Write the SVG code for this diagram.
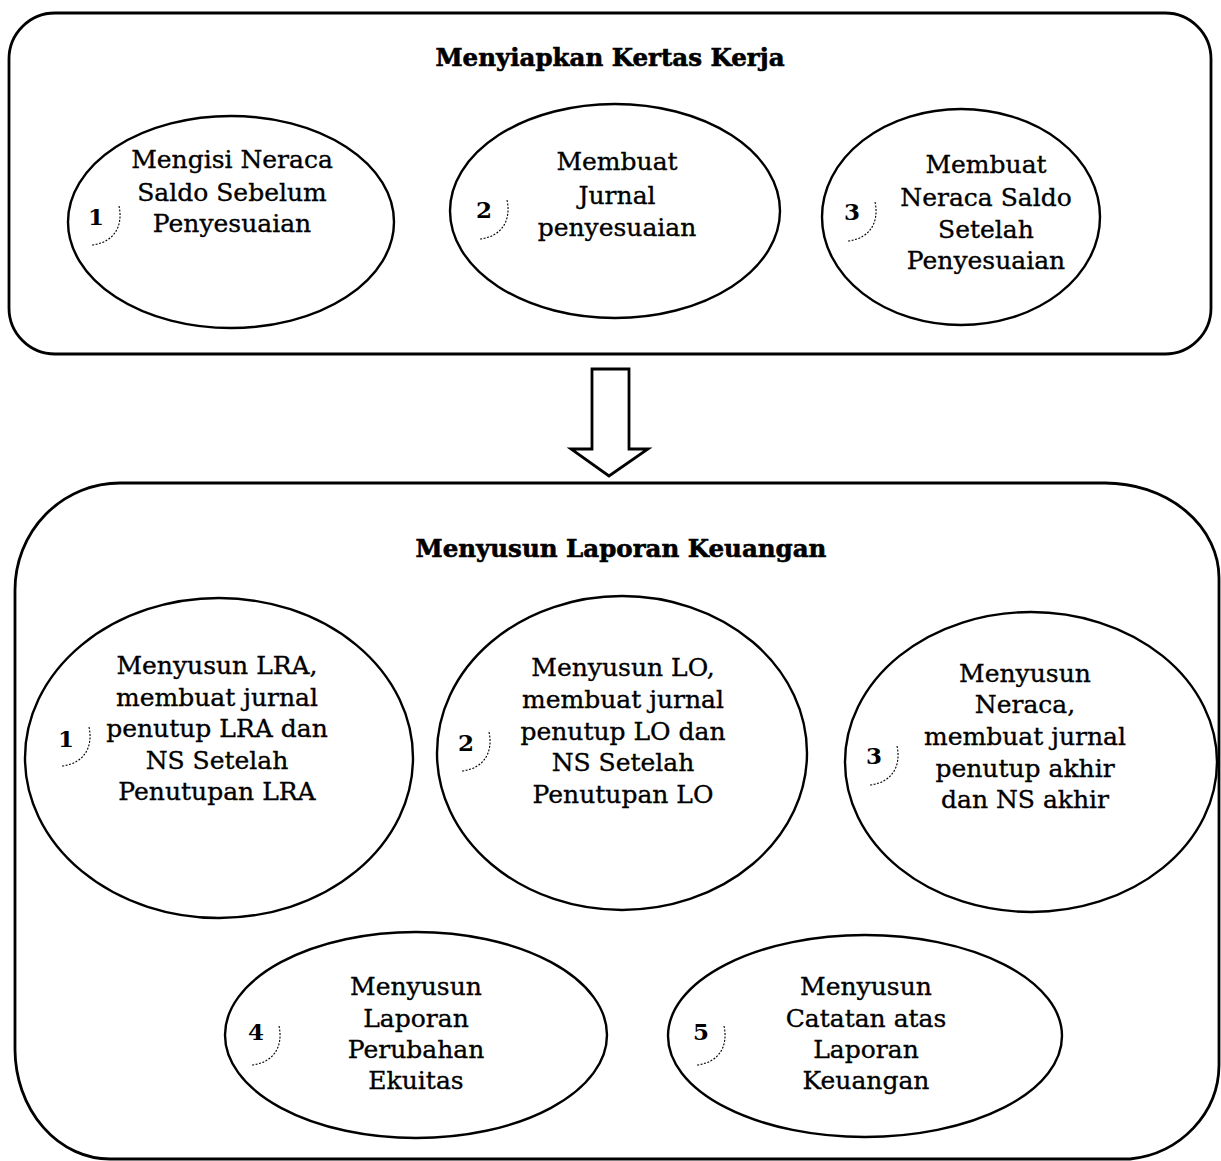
<svg xmlns="http://www.w3.org/2000/svg" width="1221" height="1161" viewBox="0 0 1221 1161">
<style>
.box{fill:none;stroke:#000;stroke-width:2.8}
.ell{fill:#fff;stroke:#000;stroke-width:2.4}
.t{font-family:"DejaVu Serif","Liberation Serif",serif;font-size:25px;fill:#000;stroke:#000;stroke-width:0.35;text-anchor:middle}
.h{font-family:"DejaVu Serif","Liberation Serif",serif;font-size:24.5px;font-weight:bold;fill:#000;stroke:#000;stroke-width:0.6;text-anchor:middle}
.n{font-family:"DejaVu Serif","Liberation Serif",serif;font-size:23px;font-weight:bold;fill:#000;text-anchor:middle}
.arc{fill:none;stroke:#000;stroke-width:1.1;stroke-dasharray:2 1.5}
</style>
<rect width="1221" height="1161" fill="#fff"/>
<g id="panel-top">
<rect class="box" x="9" y="13" width="1202" height="341" rx="46" ry="46"/>
<text class="h" x="610" y="66">Menyiapkan Kertas Kerja</text>
</g>
<g id="panel-bottom">
<path class="box" d="M 120 483 H 1105 A 114 95 0 0 1 1219 578 V 1065 A 100 95 0 0 1 1130 1159 H 110 A 95 110 0 0 1 15 1050 V 590 A 105 107 0 0 1 120 483 Z"/>
<text class="h" x="621" y="557">Menyusun Laporan Keuangan</text>
</g>
<g id="connectors">
<path class="box" d="M 592 369 H 629 V 449 H 648 L 609 476 L 571 449 H 592 Z" stroke-linejoin="miter"/>
</g>
<g id="t1">
<ellipse class="ell" cx="231" cy="222" rx="163" ry="106"/>
<text class="t" x="232" y="168">Mengisi Neraca</text>
<text class="t" x="232" y="201">Saldo Sebelum</text>
<text class="t" x="232" y="232">Penyesuaian</text>
<text class="n" x="96" y="225">1</text>
<path class="arc" d="M 119 206 C 123 224 116 242 92 245"/>
</g>
<g id="t2">
<ellipse class="ell" cx="615" cy="211" rx="165" ry="107"/>
<text class="t" x="617" y="170">Membuat</text>
<text class="t" x="617" y="204">Jurnal</text>
<text class="t" x="617" y="236">penyesuaian</text>
<text class="n" x="484" y="218">2</text>
<path class="arc" d="M 507 200 C 511 218 504 236 480 239"/>
</g>
<g id="t3">
<ellipse class="ell" cx="961" cy="217" rx="139" ry="108"/>
<text class="t" x="986" y="173">Membuat</text>
<text class="t" x="986" y="206">Neraca Saldo</text>
<text class="t" x="986" y="238">Setelah</text>
<text class="t" x="986" y="269">Penyesuaian</text>
<text class="n" x="852" y="220">3</text>
<path class="arc" d="M 875 202 C 879 220 872 238 848 241"/>
</g>
<g id="b1">
<ellipse class="ell" cx="219" cy="758" rx="194" ry="160"/>
<text class="t" x="217" y="674">Menyusun LRA,</text>
<text class="t" x="217" y="706">membuat jurnal</text>
<text class="t" x="217" y="737">penutup LRA dan</text>
<text class="t" x="217" y="769">NS Setelah</text>
<text class="t" x="217" y="800">Penutupan LRA</text>
<text class="n" x="66" y="747">1</text>
<path class="arc" d="M 89 727 C 93 745 86 763 62 766"/>
</g>
<g id="b2">
<ellipse class="ell" cx="622" cy="753" rx="185" ry="157"/>
<text class="t" x="623" y="676">Menyusun LO,</text>
<text class="t" x="623" y="708">membuat jurnal</text>
<text class="t" x="623" y="740">penutup LO dan</text>
<text class="t" x="623" y="771">NS Setelah</text>
<text class="t" x="623" y="803">Penutupan LO</text>
<text class="n" x="466" y="751">2</text>
<path class="arc" d="M 489 732 C 493 750 486 768 462 771"/>
</g>
<g id="b3">
<ellipse class="ell" cx="1031" cy="762" rx="186" ry="150"/>
<text class="t" x="1025" y="682">Menyusun</text>
<text class="t" x="1025" y="713">Neraca,</text>
<text class="t" x="1025" y="745">membuat jurnal</text>
<text class="t" x="1025" y="777">penutup akhir</text>
<text class="t" x="1025" y="808">dan NS akhir</text>
<text class="n" x="874" y="764">3</text>
<path class="arc" d="M 897 746 C 901 764 894 782 870 785"/>
</g>
<g id="b4">
<ellipse class="ell" cx="416" cy="1035" rx="191" ry="103"/>
<text class="t" x="416" y="995">Menyusun</text>
<text class="t" x="416" y="1027">Laporan</text>
<text class="t" x="416" y="1058">Perubahan</text>
<text class="t" x="416" y="1089">Ekuitas</text>
<text class="n" x="256" y="1040">4</text>
<path class="arc" d="M 279 1026 C 283 1044 276 1062 252 1065"/>
</g>
<g id="b5">
<ellipse class="ell" cx="865" cy="1036" rx="197" ry="101"/>
<text class="t" x="866" y="995">Menyusun</text>
<text class="t" x="866" y="1027">Catatan atas</text>
<text class="t" x="866" y="1058">Laporan</text>
<text class="t" x="866" y="1089">Keuangan</text>
<text class="n" x="701" y="1040">5</text>
<path class="arc" d="M 724 1026 C 728 1044 721 1062 697 1065"/>
</g>
</svg>
